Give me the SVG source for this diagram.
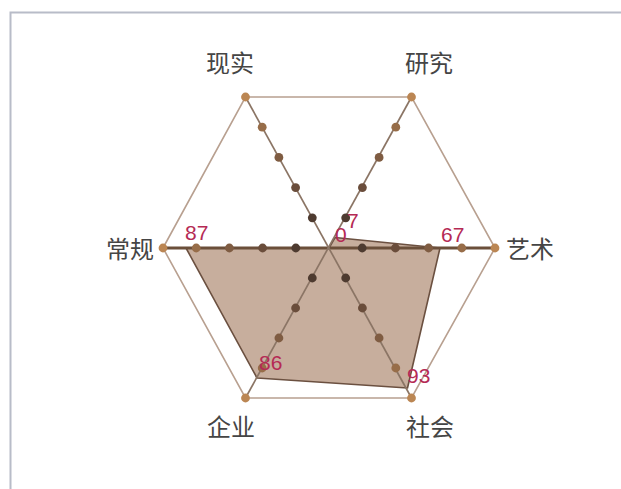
<svg xmlns="http://www.w3.org/2000/svg" width="621" height="489" viewBox="0 0 621 489">
<style>
.axis-label{font-family:"Noto Sans CJK SC","Noto Sans",sans-serif;font-size:24px;fill:#454545;text-anchor:middle}
.val{font-family:"Liberation Sans",Arial,sans-serif;font-size:21px;fill:#b52a55}
.hex{fill:none;stroke:#b8a090;stroke-width:1.6}
.ax{stroke:#8b7565;stroke-width:1.7}
.axh{stroke:#6b4f3a;stroke-width:3}
.d1{fill:#4e3b30}.d2{fill:#6a4d3b}.d3{fill:#7f5c42}.d4{fill:#976d49}.dv{fill:#bb8653}
circle{r:4.4px}
</style>
<rect x="0" y="0" width="621" height="489" fill="#ffffff"/>
<path d="M10.5 489 V12.5 H621" fill="none" stroke="#b8bcc8" stroke-width="2"/>
<g id="grid">
<polygon class="hex" points="163,248 245.5,97 411.5,97 495,248 411.5,398 245.5,398"/>
</g>
<g id="data-area">
<polygon points="186,248 329,248 335,237.5 440,248 407.5,388 257,378" fill="#c2a795" fill-opacity="0.92" stroke="#6b5040" stroke-width="1.6" stroke-linejoin="round"/>
</g>
<g id="connectors">
<line class="axh" x1="163" y1="248" x2="495" y2="248"/>
<line class="ax" x1="245.5" y1="97" x2="411.5" y2="398"/>
<line class="ax" x1="411.5" y1="97" x2="245.5" y2="398"/>
</g>
<g id="axis-changgui">
<circle class="d1" cx="295.8" cy="248" r="4.4"/><circle class="d2" cx="262.6" cy="248" r="4.4"/><circle class="d3" cx="229.4" cy="248" r="4.4"/><circle class="d4" cx="196.2" cy="248" r="4.4"/><circle class="dv" cx="163" cy="248" r="4.8"/>
<text class="axis-label" x="130" y="258">常规</text>
</g>
<g id="axis-yishu">
<circle class="d1" cx="362.2" cy="248" r="4.4"/><circle class="d2" cx="395.4" cy="248" r="4.4"/><circle class="d3" cx="428.6" cy="248" r="4.4"/><circle class="d4" cx="461.8" cy="248" r="4.4"/><circle class="dv" cx="495" cy="248" r="4.8"/>
<text class="axis-label" x="530" y="258">艺术</text>
</g>
<g id="axis-xianshi">
<circle class="d1" cx="312.3" cy="217.8" r="4.4"/><circle class="d2" cx="295.6" cy="187.6" r="4.4"/><circle class="d3" cx="278.9" cy="157.4" r="4.4"/><circle class="d4" cx="262.2" cy="127.2" r="4.4"/><circle class="dv" cx="245.5" cy="97" r="4.8"/>
<text class="axis-label" x="230" y="72">现实</text>
</g>
<g id="axis-yanjiu">
<circle class="d1" cx="345.7" cy="217.8" r="4.4"/><circle class="d2" cx="362.4" cy="187.6" r="4.4"/><circle class="d3" cx="379.1" cy="157.4" r="4.4"/><circle class="d4" cx="395.8" cy="127.2" r="4.4"/><circle class="dv" cx="411.5" cy="97" r="4.8"/>
<text class="axis-label" x="429" y="72">研究</text>
</g>
<g id="axis-qiye">
<circle class="d1" cx="312.3" cy="278" r="4.4"/><circle class="d2" cx="295.6" cy="308" r="4.4"/><circle class="d3" cx="278.9" cy="338" r="4.4"/><circle class="d4" cx="262.2" cy="368" r="4.4"/><circle class="dv" cx="245.5" cy="398" r="4.8"/>
<text class="axis-label" x="231" y="436">企业</text>
</g>
<g id="axis-shehui">
<circle class="d1" cx="345.7" cy="278" r="4.4"/><circle class="d2" cx="362.4" cy="308" r="4.4"/><circle class="d3" cx="379.1" cy="338" r="4.4"/><circle class="d4" cx="395.8" cy="368" r="4.4"/><circle class="dv" cx="411.5" cy="398" r="4.8"/>
<text class="axis-label" x="430" y="436">社会</text>
</g>
<g id="values">
<text class="val" x="185" y="240">87</text>
<text class="val" x="441" y="242">67</text>
<text class="val" x="407" y="383">93</text>
<text class="val" x="259" y="370">86</text>
<text class="val" x="347" y="228">7</text>
<text class="val" x="335" y="242">0</text>
</g>
</svg>
